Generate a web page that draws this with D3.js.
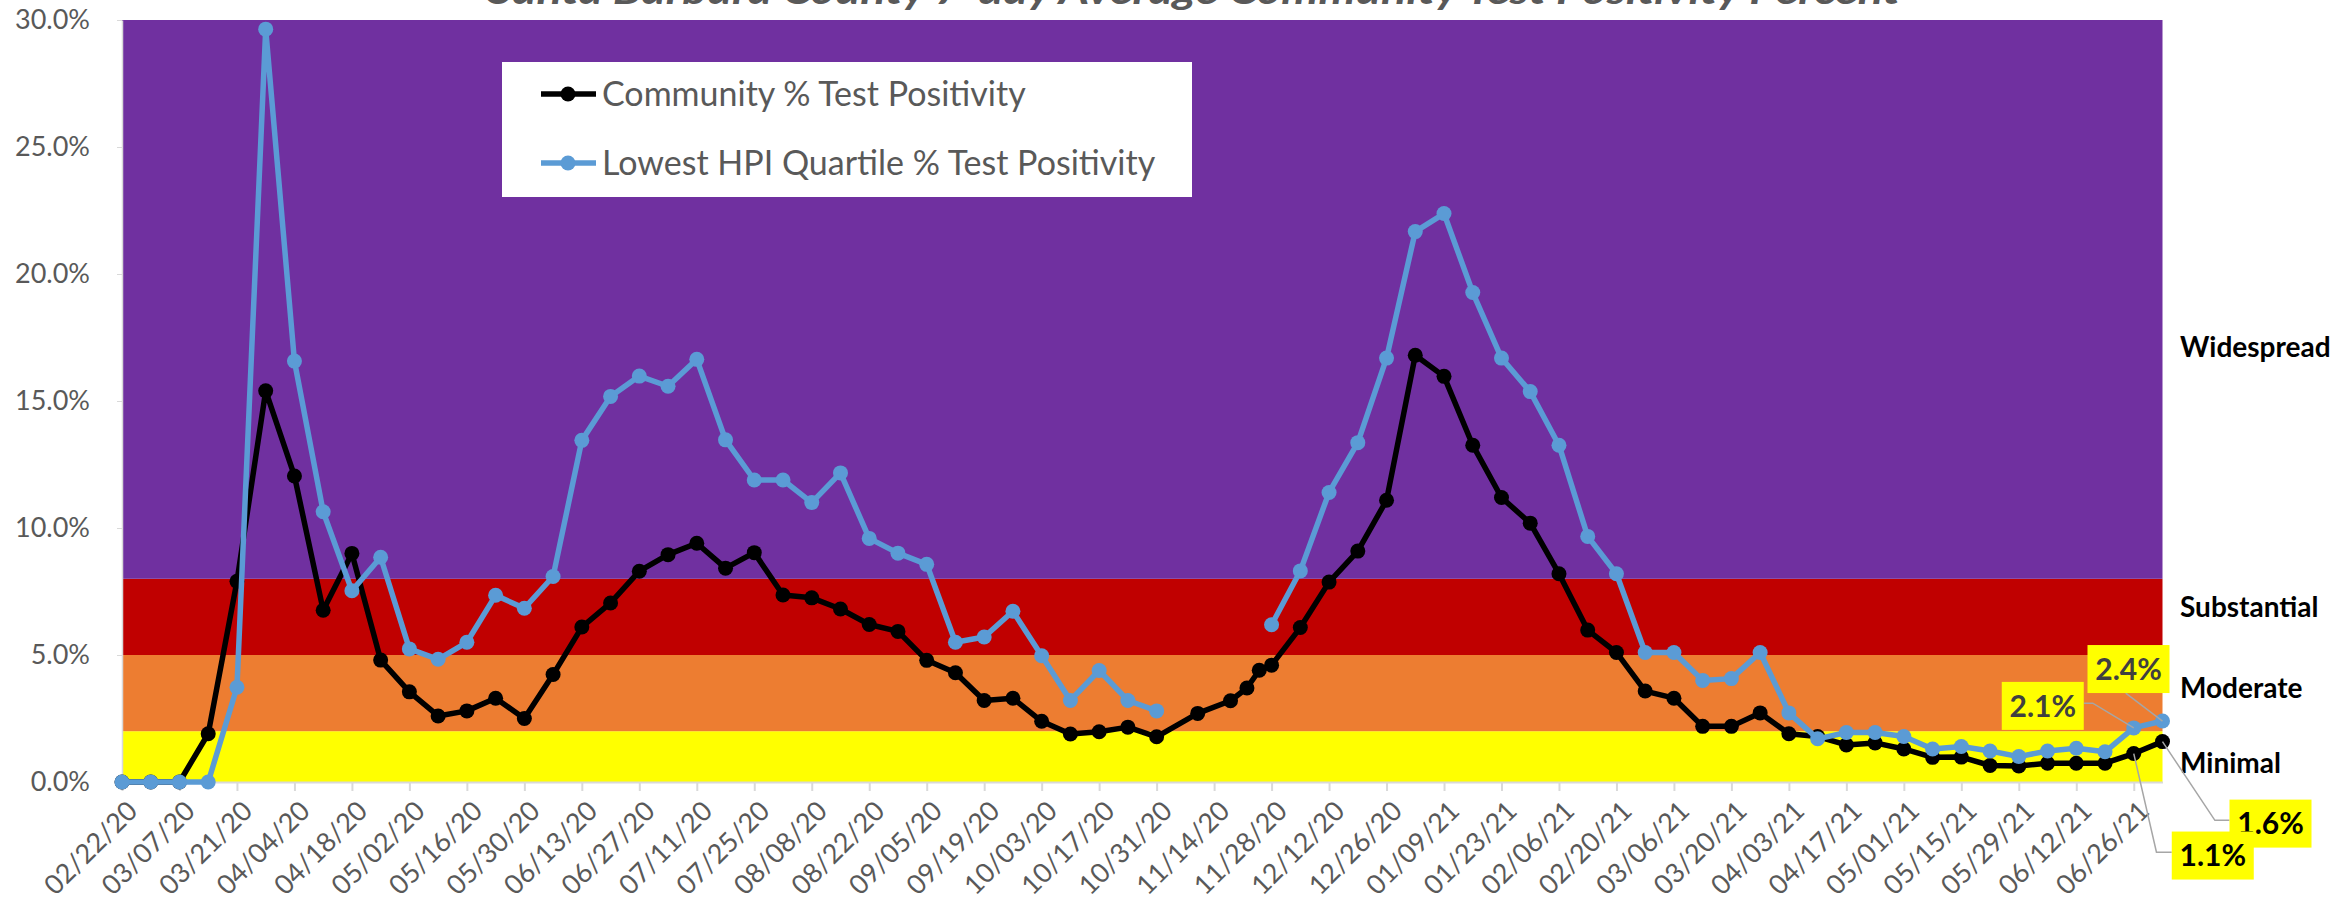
<!DOCTYPE html>
<html>
<head>
  <title>Santa Barbara County Test Positivity</title>
  <script type="text/javascript" src="https://d3js.org/d3.v7.min.js"></script>
  <style type="text/css">
    body {
      margin: 0px;
      background: #fff;
      font-family: Lato, "Open Sans", sans-serif;
    }
    svg { display: block; }
  </style>
</head>
<body>
  <svg width="2351" height="902"></svg>
  <script type="text/javascript">
    // week ending dates (a few irregular ones in November)
    var dates = [
      "02/22/20","02/29/20","03/07/20","03/14/20","03/21/20","03/28/20","04/04/20","04/11/20",
      "04/18/20","04/25/20","05/02/20","05/09/20","05/16/20","05/23/20","05/30/20","06/06/20",
      "06/13/20","06/20/20","06/27/20","07/04/20","07/11/20","07/18/20","07/25/20","08/01/20",
      "08/08/20","08/15/20","08/22/20","08/29/20","09/05/20","09/12/20","09/19/20","09/26/20",
      "10/03/20","10/10/20","10/17/20","10/24/20","10/31/20","11/10/20","11/18/20","11/22/20",
      "11/25/20","11/28/20","12/05/20","12/12/20","12/19/20","12/26/20","01/02/21","01/09/21",
      "01/16/21","01/23/21","01/30/21","02/06/21","02/13/21","02/20/21","02/27/21","03/06/21",
      "03/13/21","03/20/21","03/27/21","04/03/21","04/10/21","04/17/21","04/24/21","05/01/21",
      "05/08/21","05/15/21","05/22/21","05/29/21","06/05/21","06/12/21","06/19/21","06/26/21",
      "07/03/21"
    ];

    var community = [
      0, 0, 0, 1.9, 7.9, 15.4, 12.05, 6.76,
      9.0, 4.8, 3.55, 2.6, 2.8, 3.3, 2.5, 4.23,
      6.1, 7.05, 8.3, 8.95, 9.4, 8.42, 9.03, 7.36,
      7.25, 6.81, 6.2, 5.93, 4.79, 4.3, 3.21, 3.3,
      2.39, 1.89, 1.98, 2.16, 1.78, 2.7, 3.2, 3.7,
      4.4, 4.6, 6.08, 7.87, 9.09, 11.09, 16.8, 15.97,
      13.26, 11.2, 10.19, 8.2, 5.98, 5.1, 3.58, 3.3,
      2.19, 2.19, 2.72, 1.9, 1.79, 1.46, 1.54, 1.3,
      0.97, 0.98, 0.65, 0.63, 0.74, 0.74, 0.74, 1.12,
      1.59
    ];

    var lowestHpi = [
      0, 0, 0, 0, 3.73, 29.64, 16.57, 10.64,
      7.53, 8.85, 5.24, 4.83, 5.5, 7.35, 6.84, 8.09,
      13.45, 15.18, 15.98, 15.58, 16.64, 13.47, 11.89, 11.89,
      11.0, 12.17, 9.59, 9.01, 8.57, 5.5, 5.71, 6.72,
      4.97, 3.21, 4.39, 3.21, 2.8, null, null, null,
      null, 6.19, 8.31, 11.4, 13.36, 16.69, 21.67, 22.38,
      19.27, 16.69, 15.37, 13.26, 9.67, 8.2, 5.1, 5.1,
      4.0, 4.07, 5.1, 2.72, 1.7, 1.95, 1.95, 1.79,
      1.3, 1.4, 1.22, 1.0, 1.22, 1.33, 1.19, 2.13,
      2.4
    ];

    var tickLabels = [
      "02/22/20","03/07/20","03/21/20","04/04/20","04/18/20","05/02/20","05/16/20","05/30/20",
      "06/13/20","06/27/20","07/11/20","07/25/20","08/08/20","08/22/20","09/05/20","09/19/20",
      "10/03/20","10/17/20","10/31/20","11/14/20","11/28/20","12/12/20","12/26/20","01/09/21",
      "01/23/21","02/06/21","02/20/21","03/06/21","03/20/21","04/03/21","04/17/21","05/01/21",
      "05/15/21","05/29/21","06/12/21","06/26/21"
    ];

    var yTicks = [0, 5, 10, 15, 20, 25, 30];

    var bandNames = ["Minimal", "Moderate", "Substantial", "Widespread"];
    var bandFrom = [0, 2, 5, 8];
    var bandTo = [2, 5, 8, 30];
    var bandColors = ["#FFFF00", "#ED7D31", "#C00000", "#7030A0"];

    var seriesNames = ["Community % Test Positivity", "Lowest HPI Quartile % Test Positivity"];
    var seriesColors = ["#000000", "#5B9BD5"];

    var titleText = "Santa Barbara County 7-day Average Community Test Positivity Percent";

    var parse = d3.timeParse("%m/%d/%y");
    var svg = d3.select("svg");

    var x = d3.scaleTime()
      .domain([parse(dates[0]), parse(dates[dates.length - 1])])
      .range([122, 2162.5]);
    var y = d3.scaleLinear().domain([0, 30]).range([782, 20]);
    var pct = function(v){ return d3.format(".1f")(v) + "%"; };

    // title, cut off at the top like the original
    svg.append("text")
      .attr("x", 1194).attr("y", 4)
      .attr("text-anchor", "middle")
      .attr("font-size", 39).attr("font-weight", "bold").attr("font-style", "italic")
      .attr("fill", "#595959")
      .attr("textLength", 1412).attr("lengthAdjust", "spacingAndGlyphs")
      .text(titleText);

    // risk tier bands
    svg.selectAll("rect.band")
      .data(bandNames)
      .enter().append("rect")
      .attr("class", "band")
      .attr("x", x.range()[0])
      .attr("width", x.range()[1] - x.range()[0])
      .attr("y", function(d, i){ return y(bandTo[i]); })
      .attr("height", function(d, i){ return y(bandFrom[i]) - y(bandTo[i]); })
      .attr("fill", function(d, i){ return bandColors[i]; });

    // axes
    var xAxis = d3.axisBottom(x)
      .tickValues(tickLabels.map(parse))
      .tickFormat(d3.timeFormat("%m/%d/%y"))
      .tickSize(9).tickSizeOuter(0);
    var gx = svg.append("g").attr("transform", "translate(0," + y(0) + ")").call(xAxis);
    gx.select(".domain").attr("stroke", "#D9D9D9").attr("stroke-width", 2);
    gx.selectAll(".tick line").attr("stroke", "#D9D9D9").attr("stroke-width", 2);
    gx.selectAll(".tick text")
      .attr("x", 0).attr("y", 0).attr("dy", "0.35em")
      .attr("text-anchor", "end")
      .attr("transform", "translate(10,24) rotate(-45)")
      .attr("font-family", "Lato, sans-serif")
      .attr("font-size", 27)
      .attr("fill", "#595959");

    var yAxis = d3.axisLeft(y).tickValues(yTicks).tickFormat(pct).tickSize(5).tickSizeOuter(0);
    var gy = svg.append("g").attr("transform", "translate(" + x.range()[0] + ",0)").call(yAxis);
    gy.select(".domain").attr("stroke", "#D9D9D9").attr("stroke-width", 1.5);
    gy.selectAll(".tick line").attr("stroke", "#D9D9D9");
    gy.selectAll(".tick text")
      .attr("x", -32)
      .attr("font-family", "Lato, sans-serif")
      .attr("font-size", 27)
      .attr("fill", "#595959");

    // series
    var seriesValues = [community, lowestHpi];
    var rows = seriesValues.map(function(vals){
      return dates.map(function(d, i){ return { date: parse(d), value: vals[i], i: i }; });
    });

    var line = d3.line()
      .defined(function(d){ return d.value != null; })
      .x(function(d){ return x(d.date); })
      .y(function(d){ return y(d.value); });

    [0, 1].forEach(function(s){
      var g = svg.append("g");
      g.append("path")
        .datum(rows[s])
        .attr("d", line)
        .attr("fill", "none")
        .attr("stroke", seriesColors[s])
        .attr("stroke-width", 5.5)
        .attr("stroke-linejoin", "round");
      g.selectAll("circle")
        .data(rows[s].filter(function(d){ return d.value != null; }))
        .enter().append("circle")
        .attr("cx", function(d){ return x(d.date); })
        .attr("cy", function(d){ return y(d.value); })
        .attr("r", 7.5)
        .attr("fill", seriesColors[s]);
    });

    // legend
    var legend = svg.append("g");
    legend.append("rect")
      .attr("x", 502).attr("y", 62).attr("width", 690).attr("height", 135)
      .attr("fill", "#fff");
    seriesNames.forEach(function(name, i){
      var ly = 94 + i * 69;
      legend.append("line")
        .attr("x1", 541).attr("x2", 596).attr("y1", ly).attr("y2", ly)
        .attr("stroke", seriesColors[i]).attr("stroke-width", 5.5);
      legend.append("circle").attr("cx", 568).attr("cy", ly).attr("r", 7.5).attr("fill", seriesColors[i]);
      legend.append("text")
        .attr("x", 602).attr("y", ly).attr("dy", "0.35em")
        .attr("font-size", 34).attr("fill", "#595959")
        .text(name);
    });

    // tier labels at right
    var tierLabelAt = [0.75, 3.7, 6.9, 17.1];
    svg.selectAll("text.tier")
      .data(bandNames)
      .enter().append("text")
      .attr("class", "tier")
      .attr("x", 2180)
      .attr("y", function(d, i){ return y(tierLabelAt[i]); })
      .attr("dy", "0.35em")
      .attr("font-size", 28).attr("font-weight", "bold").attr("fill", "#000")
      .text(function(d){ return d; });

    // data labels for the last two points
    var n = dates.length;
    var callouts = [
      { s: 1, i: n - 2, dx: -91, dy: -22, path: [[50, -2.7], [41, -2.7]], color: "#404040" },
      { s: 1, i: n - 1, dx: -34, dy: -52, path: [[-2.8, 24]], color: "#404040" },
      { s: 0, i: n - 1, dx: 108, dy: 82, path: [[-55.6, -3.3], [-41, -3.3]], color: "#000" },
      { s: 0, i: n - 2, dx: 79, dy: 102, path: [[-56.3, -3.3], [-41, -3.3]], color: "#000" }
    ];
    callouts.forEach(function(c){
      var px = x(parse(dates[c.i])), py = y(seriesValues[c.s][c.i]);
      var cx = px + c.dx, cy = py + c.dy;
      var pts = [[px, py]].concat(c.path.map(function(p){ return [cx + p[0], cy + p[1]]; }));
      svg.append("path")
        .attr("d", d3.line()(pts))
        .attr("fill", "none").attr("stroke", "#A6A6A6").attr("stroke-width", 1.5);
      svg.append("rect")
        .attr("x", cx - 41).attr("y", cy - 24).attr("width", 82).attr("height", 48)
        .attr("fill", "#FFFF00");
      svg.append("text")
        .attr("x", cx).attr("y", cy).attr("dy", "0.36em")
        .attr("text-anchor", "middle")
        .attr("font-size", 30).attr("font-weight", "bold").attr("fill", c.color)
        .text(pct(seriesValues[c.s][c.i]));
    });
  </script>
</body>
</html>
